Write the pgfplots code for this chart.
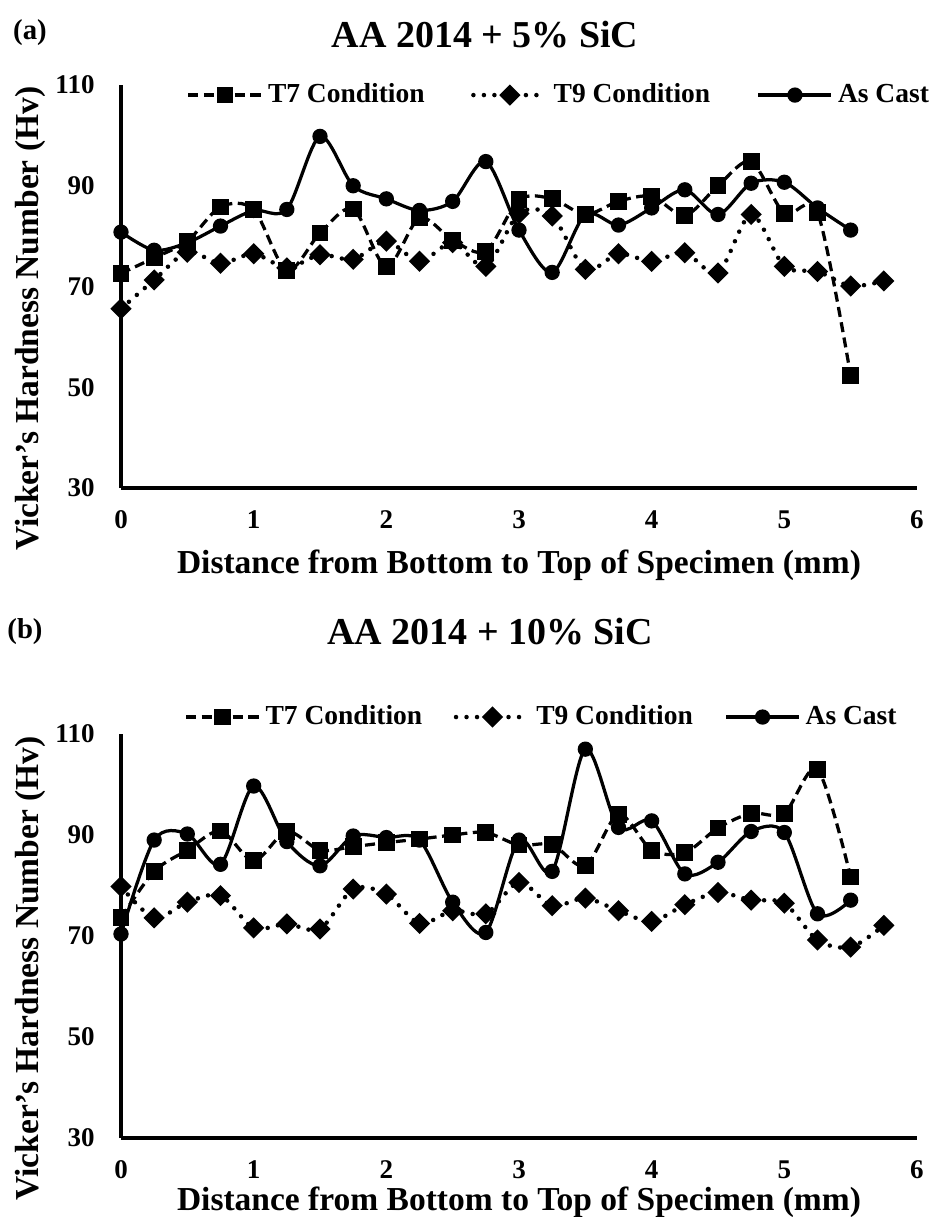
\documentclass[border=0pt]{standalone}
\usepackage{pgfplots}
\pgfplotsset{compat=1.18}
\usepackage{fontspec}
\setmainfont{Liberation Serif}

\pgfplotsset{
  myaxis/.style={
    scale only axis,
    width=318.4pt,
    xmin=0, xmax=6, ymin=30, ymax=110,
    xtick={0,1,2,3,4,5,6},
    ytick={30,50,70,90,110},
    axis x line*=bottom, axis y line*=left,
    axis line style={line width=1.6pt},
    x axis line style={-}, y axis line style={-},
    major tick length=0pt,
    clip=false,
    /pgf/number format/assume math mode=true,
    tick label style={font=\bfseries\fontsize{10.8pt}{13pt}\selectfont},
    xticklabel style={anchor=center, yshift=-12.8pt},
    yticklabel style={anchor=east, inner sep=0pt, xshift=-10.4pt},
    xlabel={Distance from Bottom to Top of Specimen (mm)},
    ylabel={Vicker's Hardness Number (Hv)},
    label style={font=\bfseries\fontsize{13.4pt}{16pt}\selectfont},
    ylabel style={at={(rel axis cs:-0.114,0.42)}, anchor=center},
    legend columns=3,
    legend cell align=left,
    legend style={draw=none, fill=none, anchor=west, inner xsep=0pt, inner ysep=0pt,
      font=\bfseries\fontsize{11pt}{13pt}\selectfont},
    legend image code/.code={\draw[mark repeat=2,mark phase=2,#1] plot coordinates {(0pt,0pt) (14.6pt,0pt) (29.2pt,0pt)};},
  },
  t7/.style={black, line width=1.3pt, dash pattern=on 4pt off 2.2pt, mark=square*, mark size=2.7pt, mark options={solid}, smooth, tension=0.5},
  t9/.style={black, line width=1.8pt, dash pattern=on 0pt off 4.2pt, line cap=round, mark=square*, mark size=2.1pt, mark options={solid, rotate=45}, smooth, tension=0.5},
  ac/.style={black, line width=1.3pt, solid, mark=*, mark size=2.4pt, smooth, tension=0.5},
}

\begin{document}
\begin{tikzpicture}
\path[use as bounding box] (0,0) rectangle (374pt,-486.8pt);

\node[font=\bfseries\fontsize{11.5pt}{13pt}\selectfont] at (12pt,-13pt) {(a)};
\node[font=\bfseries\fontsize{15.2pt}{18pt}\selectfont] at (194pt,-14pt) {AA 2014 + 5\% SiC};
\node[font=\bfseries\fontsize{11.5pt}{13pt}\selectfont] at (10pt,-252.8pt) {(b)};
\node[font=\bfseries\fontsize{15.2pt}{18pt}\selectfont] at (196pt,-252.8pt) {AA 2014 + 10\% SiC};

\begin{axis}[myaxis, height=161.2pt, at={(48.4pt,-195.2pt)}, anchor=south west,
  xlabel style={at={(rel axis cs:0.5,-0.191)}, anchor=center},
  legend style={at={(rel axis cs:0.082,0.975)}, /tikz/every even column/.append style={column sep=16.6pt}}]
\addplot[t7] coordinates {(0,72.6)(0.25,75.7)(0.5,79.0)(0.75,85.8)(1,85.3)(1.25,73.2)(1.5,80.6)(1.75,85.4)(2,73.9)(2.25,83.6)(2.5,79.2)(2.75,77.0)(3,87.2)(3.25,87.4)(3.5,84.3)(3.75,86.9)(4,87.9)(4.25,84.1)(4.5,90.0)(4.75,94.8)(5,84.5)(5.25,84.7)(5.5,52.3)};
\addlegendentry{T7 Condition}
\addplot[t9] coordinates {(0,65.6)(0.25,71.3)(0.5,76.8)(0.75,74.6)(1,76.5)(1.25,73.7)(1.5,76.3)(1.75,75.4)(2,79.0)(2.25,75.0)(2.5,78.7)(2.75,74.0)(3,84.5)(3.25,84.0)(3.5,73.4)(3.75,76.5)(4,75.0)(4.25,76.7)(4.5,72.7)(4.75,84.3)(5,74.0)(5.25,73.0)(5.5,70.1)(5.75,71.1)};
\addlegendentry{T9 Condition}
\addplot[ac] coordinates {(0,80.8)(0.25,77.2)(0.5,78.7)(0.75,82.0)(1,85.1)(1.25,85.3)(1.5,99.8)(1.75,90.0)(2,87.4)(2.25,85.1)(2.5,86.9)(2.75,94.8)(3,81.2)(3.25,72.8)(3.5,84.3)(3.75,82.2)(4,85.6)(4.25,89.2)(4.5,84.3)(4.75,90.5)(5,90.7)(5.25,85.6)(5.5,81.2)};
\addlegendentry{As Cast}
\end{axis}

\begin{axis}[myaxis, height=161.6pt, at={(48.4pt,-455.2pt)}, anchor=south west,
  xlabel style={at={(rel axis cs:0.5,-0.158)}, anchor=center},
  legend style={at={(rel axis cs:0.079,1.042)}, /tikz/every even column/.append style={column sep=10.6pt}}]
\addplot[t7] coordinates {(0,73.6)(0.25,82.8)(0.5,87.0)(0.75,90.8)(1,84.9)(1.25,90.7)(1.5,87.0)(1.75,87.7)(2,88.5)(2.25,89.2)(2.5,90.0)(2.75,90.5)(3,88.0)(3.25,88.1)(3.5,83.9)(3.75,94.1)(4,87.0)(4.25,86.5)(4.5,91.4)(4.75,94.3)(5,94.3)(5.25,103.0)(5.5,81.7)};
\addlegendentry{T7 Condition}
\addplot[t9] coordinates {(0,79.8)(0.25,73.6)(0.5,76.7)(0.75,78.0)(1,71.6)(1.25,72.4)(1.5,71.4)(1.75,79.3)(2,78.3)(2.25,72.5)(2.5,75.0)(2.75,74.4)(3,80.6)(3.25,76.0)(3.5,77.5)(3.75,75.0)(4,72.9)(4.25,76.2)(4.5,78.6)(4.75,77.1)(5,76.5)(5.25,69.2)(5.5,67.8)(5.75,72.1)};
\addlegendentry{T9 Condition}
\addplot[ac] coordinates {(0,70.4)(0.25,89.0)(0.5,90.2)(0.75,84.2)(1,99.7)(1.25,88.7)(1.5,83.9)(1.75,89.8)(2,89.5)(2.25,89.0)(2.5,76.7)(2.75,70.7)(3,89.0)(3.25,82.8)(3.5,107.0)(3.75,91.5)(4,92.8)(4.25,82.3)(4.5,84.6)(4.75,90.7)(5,90.5)(5.25,74.4)(5.5,77.1)};
\addlegendentry{As Cast}
\end{axis}
\end{tikzpicture}
\end{document}
